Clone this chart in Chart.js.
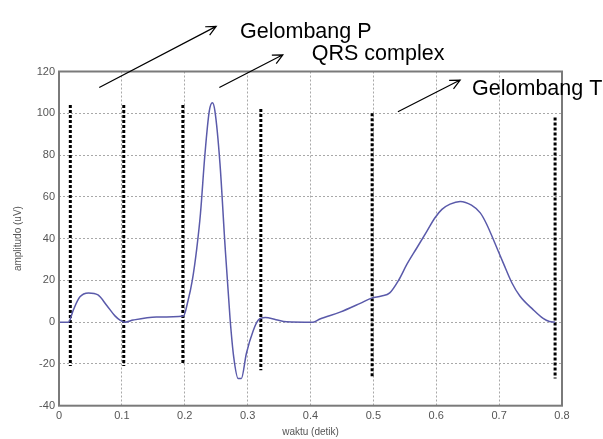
<!DOCTYPE html>
<html>
<head>
<meta charset="utf-8">
<script src="https://cdn.jsdelivr.net/npm/chart.js@4.4.1/dist/chart.umd.min.js"></script>
<style>
  html, body { margin: 0; padding: 0; background: #fff; }
  #wrap { width: 603px; height: 439px; }
</style>
</head>
<body>
<div id="wrap"><canvas id="ecg" width="603" height="439"></canvas></div>
<script>
// sinyal EKG satu siklus
const timeSec = [0, 0.015, 0.023, 0.033, 0.047, 0.062, 0.076, 0.089, 0.097, 0.105,
    0.118, 0.155, 0.198, 0.205, 0.212, 0.219, 0.225, 0.232, 0.239, 0.244,
    0.248, 0.256, 0.264, 0.272, 0.278, 0.285, 0.290, 0.298, 0.309, 0.317,
    0.328, 0.345, 0.362, 0.404, 0.415, 0.447, 0.479, 0.497, 0.513, 0.526,
    0.540, 0.553, 0.569, 0.585, 0.598, 0.609, 0.622, 0.638, 0.656, 0.670,
    0.680, 0.693, 0.707, 0.720, 0.733, 0.754, 0.770, 0.780, 0.789];
const amplitudeUV = [0, 0, 6, 12, 14, 13, 8, 3, 1, 0,
    1, 2.5, 3, 10, 20, 35, 52, 80, 101, 105,
    101, 76, 37, 2, -17, -27, -27, -15, -4, 1,
    2.2, 1.2, 0.2, 0, 1.5, 4.8, 9, 11.5, 12.5, 14,
    20, 27.5, 35.5, 43.5, 50, 54, 56.5, 57.8, 56, 52.3,
    47, 38, 28, 19, 12.5, 6, 1.8, 0.3, 0];

// garis batas tiap gelombang
const markerTimes   = [0.018, 0.103, 0.197, 0.321, 0.498, 0.789];
const markerTops    = [104, 104, 104, 102, 100, 98];
const markerBottoms = [-21, -21, -20, -23, -26, -27];

const xTicks = [0, 0.1, 0.2, 0.3, 0.4, 0.5, 0.6, 0.7, 0.8];
const yTicks = [-40, -20, 0, 20, 40, 60, 80, 100, 120];

const waveLabels = ['Gelombang P', 'QRS complex', 'Gelombang T'];

// posisi panah & teks dalam koordinat data
const notes = [
    { from: [0.064, 112.3], to: [0.250, 141.6], text: [0.288, 136] },
    { from: [0.255, 112.3], to: [0.356, 128.0], text: [0.402, 125.7] },
    { from: [0.539, 100.7], to: [0.638, 115.9], text: [0.657, 108.9] },
];

const points = timeSec.map((t, i) => ({ x: t, y: amplitudeUV[i] }));

const markerSets = markerTimes.map((t, i) => ({
    data: [{ x: t, y: markerTops[i] }, { x: t, y: markerBottoms[i] }],
    borderColor: '#000',
    borderWidth: 3,
    borderDash: [3, 2],
    pointRadius: 0,
    showLine: true,
    order: 1,
}));

const framePlugin = {
    id: 'frame',
    afterDraw(chart) {
        const { ctx, chartArea: a, scales } = chart;
        ctx.save();
        ctx.strokeStyle = '#7a7a7a';
        ctx.lineWidth = 2;
        ctx.strokeRect(a.left, a.top, a.right - a.left, a.bottom - a.top);

        // panah dan keterangan
        ctx.strokeStyle = '#000';
        ctx.fillStyle = '#000';
        ctx.lineWidth = 1.2;
        ctx.font = '21.5px "Liberation Sans", Arial, sans-serif';
        ctx.textBaseline = 'alphabetic';
        notes.forEach((n, i) => {
            const x1 = scales.x.getPixelForValue(n.from[0]);
            const y1 = scales.y.getPixelForValue(n.from[1]);
            const x2 = scales.x.getPixelForValue(n.to[0]);
            const y2 = scales.y.getPixelForValue(n.to[1]);
            const ang = Math.atan2(y2 - y1, x2 - x1);
            const h = 11;
            ctx.beginPath();
            ctx.moveTo(x1, y1);
            ctx.lineTo(x2, y2);
            ctx.moveTo(x2 - h * Math.cos(ang - 0.45), y2 - h * Math.sin(ang - 0.45));
            ctx.lineTo(x2, y2);
            ctx.lineTo(x2 - h * Math.cos(ang + 0.45), y2 - h * Math.sin(ang + 0.45));
            ctx.stroke();
            ctx.fillText(waveLabels[i],
                scales.x.getPixelForValue(n.text[0]),
                scales.y.getPixelForValue(n.text[1]));
        });
        ctx.restore();
    }
};

const tickFont = { family: '"Liberation Sans", Arial, sans-serif', size: 11 };

new Chart(document.getElementById('ecg'), {
    type: 'line',
    data: {
        datasets: [
            {
                data: points,
                borderColor: '#5a5aaa',
                borderWidth: 1.5,
                pointRadius: 0,
                cubicInterpolationMode: 'monotone',
                order: 0,
            },
            ...markerSets
        ]
    },
    options: {
        responsive: false,
        animation: false,
        layout: { padding: { left: 0, right: 41, top: 71.5, bottom: 0 } },
        plugins: { legend: { display: false }, tooltip: { enabled: false } },
        scales: {
            x: {
                type: 'linear',
                min: 0, max: 0.8,
                afterBuildTicks: s => { s.ticks = xTicks.map(v => ({ value: v })); },
                afterFit: s => { s.height = 33.3; },
                ticks: {
                    color: '#555', font: tickFont, padding: 4,
                    callback: v => String(Number(v.toFixed(1)))
                },
                grid: { color: '#a8a8a8', drawTicks: false },
                border: { display: false, dash: [2, 2] },
                title: { display: true, text: 'waktu (detik)', color: '#555',
                         font: { family: tickFont.family, size: 10 }, padding: { top: 0, bottom: 1 } }
            },
            y: {
                min: -40, max: 120,
                afterBuildTicks: s => { s.ticks = yTicks.map(v => ({ value: v })); },
                afterFit: s => { s.width = 59; },
                ticks: { color: '#555', font: tickFont, padding: 4 },
                grid: { color: '#a8a8a8', drawTicks: false },
                border: { display: false, dash: [2, 2] },
                title: { display: true, text: 'amplitudo (uV)', color: '#555',
                         font: { family: tickFont.family, size: 10 }, padding: { top: 12, bottom: 0 } }
            }
        }
    },
    plugins: [framePlugin]
});
</script>
</body>
</html>
